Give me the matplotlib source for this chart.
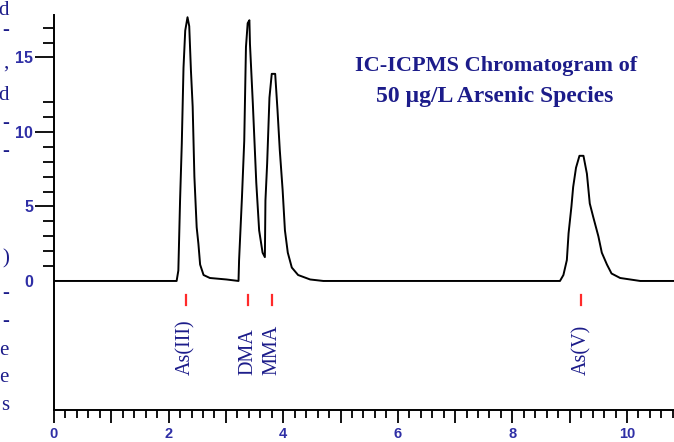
import matplotlib
matplotlib.use("Agg")
import matplotlib.pyplot as plt

# chromatogram trace (retention time in min, signal)
time = [0.00, 2.14, 2.17, 2.20, 2.23, 2.26, 2.29, 2.33, 2.36, 2.39, 2.42, 2.45,
        2.49, 2.52, 2.55, 2.61, 2.72, 3.01, 3.22,
        3.23, 3.28, 3.32, 3.35, 3.38, 3.41, 3.42, 3.47, 3.53, 3.58, 3.64, 3.68,
        3.69, 3.72, 3.76, 3.80, 3.86, 3.90, 3.94, 3.99, 4.03, 4.08, 4.15, 4.26,
        4.47, 4.70,
        8.83, 8.89, 8.95, 8.98, 9.03, 9.06, 9.11, 9.17, 9.24, 9.30, 9.35, 9.41,
        9.50, 9.56, 9.65, 9.73, 9.88, 10.23, 10.82]
signal = [0.0, 0.0, 0.7, 5.4, 9.2, 14.3, 16.8, 17.7, 17.1, 14.1, 11.7, 7.0,
          3.6, 2.5, 1.1, 0.4, 0.2, 0.1, 0.0,
          1.4, 5.6, 9.4, 15.7, 17.3, 17.5, 15.9, 11.9, 6.6, 3.4, 1.9, 1.6,
          5.4, 7.9, 12.3, 13.9, 13.9, 11.5, 8.8, 6.1, 3.4, 1.9, 0.9, 0.4,
          0.1, 0.0,
          0.0, 0.4, 1.4, 3.2, 5.0, 6.3, 7.6, 8.4, 8.4, 7.2, 5.2, 4.3,
          3.0, 1.9, 1.1, 0.5, 0.2, 0.0, 0.0]

species = ["As(III)", "DMA", "MMA", "As(V)"]
retention = [2.30, 3.39, 3.80, 9.20]

x_ticks = list(range(0, 11))
x_labels = ["0", "", "2", "", "4", "", "6", "", "8", "", "10"]
y_ticks = [0, 5, 10, 15]
y_minor = [1, 2, 3, 4, 6, 7, 8, 9, 11, 12, 16, 17]

title_lines = ["IC-ICPMS Chromatogram of", "50 \u00b5g/L Arsenic Species"]

# bits of the neighbouring text column cut off at the left edge
edge_chars = ["d", "-", ",", "d", "-", "-", ")", "-", "-", "e", "e", "s"]
edge_y = [15, 35, 68, 100, 128, 156, 263, 298, 326, 355, 382, 410]

navy = "#1c1c8a"
tick_blue = "#2f2fa6"

fig = plt.figure(figsize=(6.74, 4.42), dpi=100)
ax = fig.add_axes([54 / 674, 32 / 442, 620 / 674, 395 / 442])

ax.plot(time, signal, color="black", lw=1.4)

for name, rt in zip(species, retention):
    ax.plot([rt, rt], [-0.95, -1.6], color="#ff2a2a", lw=1.6)
    ax.text(rt, -6.3, name, rotation=90, ha="center", va="bottom",
            fontsize=14.5, family="Liberation Serif", color=navy)

ax.set_xlim(0, 10.82)
ax.set_ylim(-8.66, 17.85)

ax.spines["top"].set_visible(False)
ax.spines["right"].set_visible(False)
for s in ["left", "bottom"]:
    ax.spines[s].set_linewidth(1.4)

ax.set_xticks(x_ticks)
ax.set_xticklabels(x_labels)
ax.set_xticks([i * 0.2 for i in range(55)], minor=True)
ax.set_yticks(y_ticks)
ax.set_yticks(y_minor, minor=True)

ax.tick_params(axis="x", which="major", length=9.5, width=1.3, pad=2.5,
               labelsize=10.5, labelcolor=tick_blue)
ax.tick_params(axis="x", which="minor", length=6, width=1.3)
ax.tick_params(axis="y", which="major", length=13.5, width=1.3, pad=1.5,
               labelsize=11.5, labelcolor=tick_blue)
ax.tick_params(axis="y", which="minor", length=8, width=1.3)
ax.yaxis.get_major_ticks()[0].tick1line.set_visible(False)
for lab in ax.get_xticklabels() + ax.get_yticklabels():
    lab.set_family("Liberation Sans")
    lab.set_fontweight("bold")

fig.text(496 / 674, 1 - 71 / 442, title_lines[0], ha="center", va="baseline",
         fontsize=16, fontweight="bold", family="Liberation Serif", color=navy)
fig.text(495 / 674, 1 - 102 / 442, title_lines[1], ha="center", va="baseline",
         fontsize=17, fontweight="bold", family="Liberation Serif", color=navy)

for ch, yy in zip(edge_chars, edge_y):
    fig.text(9 / 674, 1 - yy / 442, ch, ha="right", va="baseline",
             fontsize=15, family="Liberation Serif", color=navy)

fig.savefig("out.png", dpi=100)
